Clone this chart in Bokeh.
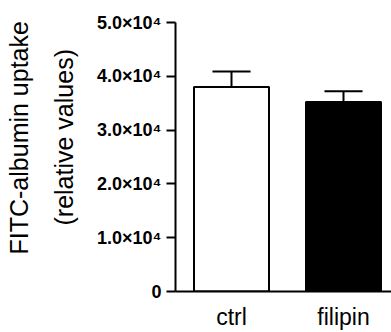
from bokeh.plotting import figure
from bokeh.models import Range1d, FixedTicker, Title
from bokeh.embed import file_html
from bokeh.resources import INLINE

# ---- data ----
categories = ["ctrl", "filipin"]
means = [38000, 35200]
sems = [2900, 2000]
fill_colors = ["white", "black"]
y_ticks = [0, 10000, 20000, 30000, 40000, 50000]
y_tick_labels = ["0", "1.0×10⁴", "2.0×10⁴", "3.0×10⁴", "4.0×10⁴", "5.0×10⁴"]
y_title = ["FITC-albumin uptake", "(relative values)"]

FONT = "Liberation Sans"
x = [i + 1 for i in range(len(categories))]
upper = [m + s for m, s in zip(means, sems)]

p = figure(width=391, height=332, output_backend="svg", toolbar_location=None,
           x_range=Range1d(0.5, 0.5 + 216 / 112), y_range=Range1d(0, 50000),
           min_border_left=175, min_border_right=0, min_border_top=22,
           min_border_bottom=40)

p.vbar(x=x, top=means, width=0.67, fill_color=fill_colors,
       line_color="black", line_width=2)
p.segment(x0=x, y0=means, x1=x, y1=upper, line_color="black", line_width=2)
cap = 0.17
p.segment(x0=[v - cap for v in x], y0=upper, x1=[v + cap for v in x], y1=upper,
          line_color="black", line_width=2)

p.xgrid.visible = False
p.ygrid.visible = False
p.outline_line_color = None

xa = p.xaxis[0]
xa.ticker = FixedTicker(ticks=x)
xa.major_label_overrides = dict(zip(x, categories))
xa.major_tick_line_color = None
xa.minor_tick_line_color = None
xa.axis_line_width = 2
xa.axis_line_color = "black"
xa.major_label_text_font = FONT
xa.major_label_text_font_size = "23px"
xa.major_label_text_color = "black"
xa.major_label_standoff = 6

ya = p.yaxis[0]
ya.ticker = FixedTicker(ticks=y_ticks)
ya.major_label_overrides = dict(zip(y_ticks, y_tick_labels))
ya.major_tick_out = 9
ya.major_tick_in = 0
ya.major_tick_line_width = 2
ya.major_tick_line_color = "black"
ya.minor_tick_line_color = None
ya.axis_line_width = 2
ya.axis_line_color = "black"
ya.major_label_text_font = FONT
ya.major_label_text_font_size = "18px"
ya.major_label_text_font_style = "bold"
ya.major_label_text_color = "black"
ya.major_label_standoff = 5

# y title: two lines as left-side titles (inner line added first)
for txt, so, off in zip(reversed(y_title), [34, -5], [66, 37]):
    p.add_layout(Title(text=txt, align="left", offset=off, standoff=so,
                       text_font=FONT, text_font_size="25px",
                       text_line_height=0.9,
                       text_font_style="normal", text_color="black"), "left")

open("out.html", "w").write(file_html(p, INLINE))
